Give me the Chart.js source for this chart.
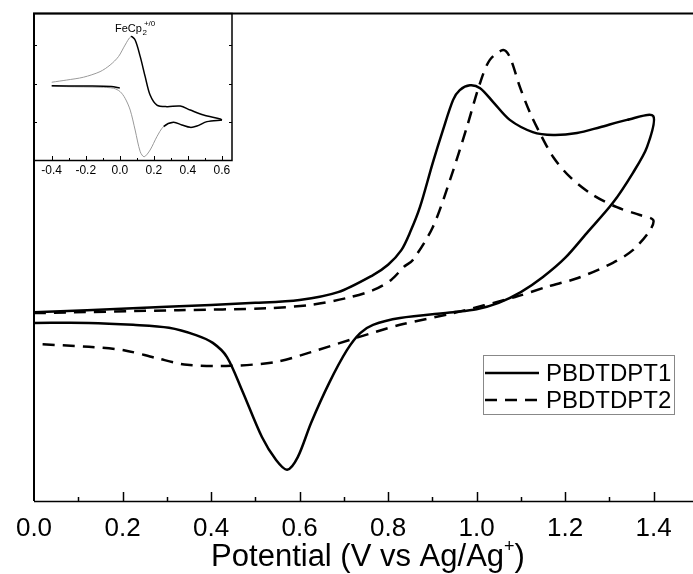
<!DOCTYPE html>
<html>
<head>
<meta charset="utf-8">
<script src="https://cdn.jsdelivr.net/npm/chart.js@4.4.1/dist/chart.umd.min.js"></script>
<style>
  html, body { margin: 0; padding: 0; background: #fff; overflow: hidden; }
  #wrap { position: relative; width: 693px; height: 574px; }
  #main { position: absolute; left: 0; top: 0; }
  #inset { position: absolute; left: 30px; top: 9px; }
</style>
</head>
<body>
<div id="wrap">
  <canvas id="main" width="693" height="574"></canvas>
  <canvas id="inset" width="215" height="180"></canvas>
</div>
<script>
const FONT = "'Liberation Sans', Arial, sans-serif";

// main plot: potential (V vs Ag/Ag+) and current (arbitrary units)
const xTickValues = [0, 0.1, 0.2, 0.3, 0.4, 0.5, 0.6, 0.7, 0.8, 0.9, 1.0, 1.1, 1.2, 1.3, 1.4];

const p1Potential = [0, 0.12, 0.30, 0.50, 0.60, 0.687, 0.766, 0.80, 0.83, 0.85, 0.872, 0.901, 0.924, 0.947, 0.962,
  0.985, 1.008, 1.037, 1.075, 1.127, 1.173, 1.227, 1.279, 1.340, 1.399,
  1.385, 1.353, 1.308, 1.249, 1.20, 1.15, 1.10, 1.05, 1.00, 0.947, 0.827, 0.766, 0.737, 0.707, 0.667, 0.626,
  0.596, 0.572, 0.547, 0.515, 0.470, 0.436, 0.404, 0.366, 0.305, 0.224, 0.124, 0];
const p1Current = [3.87, 3.91, 3.98, 4.06, 4.12, 4.28, 4.63, 4.84, 5.14, 5.51, 6.02, 6.93, 7.60, 8.22, 8.42,
  8.52, 8.46, 8.18, 7.81, 7.56, 7.50, 7.54, 7.66, 7.81, 7.89,
  7.25, 6.72, 6.11, 5.49, 4.98, 4.59, 4.28, 4.06, 3.93, 3.87, 3.75, 3.61, 3.44, 3.09, 2.42, 1.60,
  0.90, 0.64, 0.84, 1.31, 2.27, 2.95, 3.24, 3.40, 3.55, 3.61, 3.65, 3.65];

const p2Potential = [0, 0.326, 0.527, 0.626, 0.707, 0.766, 0.807, 0.836, 0.856, 0.901, 0.940, 0.978, 1.008, 1.030,
  1.060, 1.075, 1.098, 1.121, 1.143, 1.173, 1.211, 1.263, 1.317, 1.369, 1.399,
  1.392, 1.353, 1.308, 1.229, 1.159, 1.087, 0.947, 0.827, 0.727, 0.626, 0.547, 0.445, 0.346, 0.276, 0.203, 0.124, 0];
const p2Current = [3.85, 3.91, 3.95, 4.02, 4.16, 4.32, 4.53, 4.80, 4.94, 5.61, 6.58, 7.66, 8.57, 9.04,
  9.24, 9.10, 8.48, 7.95, 7.54, 7.05, 6.64, 6.27, 6.02, 5.86, 5.76,
  5.55, 5.14, 4.88, 4.57, 4.39, 4.18, 3.85, 3.61, 3.34, 3.05, 2.85, 2.77, 2.79, 2.93, 3.09, 3.16, 3.22];

// inset: ferrocene reference
const insetTickValues = [-0.4, -0.3, -0.2, -0.1, 0, 0.1, 0.2, 0.3, 0.4, 0.5, 0.6];
const insetYTicks = [0.26, 0.52, 0.78];

const fecpStartV = [0.0, -0.05, -0.2, -0.4];
const fecpStartI = [0.49, 0.50, 0.503, 0.505];

const fecpFwdV = [-0.4, -0.312, -0.214, -0.116, -0.057, -0.008, 0.031, 0.065, 0.090, 0.12, 0.149, 0.178, 0.218, 0.277, 0.355, 0.414, 0.492, 0.59, 0.6];
const fecpFwdI = [0.529, 0.544, 0.563, 0.601, 0.646, 0.703, 0.782, 0.839, 0.816, 0.703, 0.567, 0.442, 0.374, 0.363, 0.367, 0.340, 0.306, 0.279, 0.272];

const fecpRevV = [0.6, 0.512, 0.453, 0.414, 0.365, 0.315, 0.257, 0.218, 0.178, 0.143, 0.12, 0.09, 0.061, 0.031, 0.002, -0.037, -0.116, -0.312, -0.4];
const fecpRevI = [0.272, 0.261, 0.231, 0.222, 0.238, 0.256, 0.227, 0.159, 0.068, 0.022, 0.056, 0.204, 0.340, 0.420, 0.465, 0.488, 0.495, 0.499, 0.503];

function zip(xs, ys) {
    return xs.map((x, i) => ({ x: x, y: ys[i] }));
}

// frame, inward ticks, legend and axis title of the main plot
const mainDecor = {
    id: 'mainDecor',
    afterDraw(chart) {
        const { ctx, chartArea: a, scales: { x } } = chart;
        ctx.save();
        ctx.strokeStyle = '#000';
        ctx.lineWidth = 2;
        ctx.beginPath();
        ctx.moveTo(a.left, a.bottom);
        ctx.lineTo(a.left, a.top + 0.5);
        ctx.lineTo(a.right, a.top + 0.5);
        ctx.stroke();
        ctx.lineWidth = 1.5;
        ctx.beginPath();
        ctx.moveTo(a.left, a.bottom + 0.5);
        ctx.lineTo(a.right, a.bottom + 0.5);
        ctx.stroke();

        // ticks pointing into the plot
        ctx.lineWidth = 1.5;
        for (const v of xTickValues) {
            if (v === 0) continue;
            const px = Math.round(x.getPixelForValue(v)) + 0.5;
            const major = Math.round(v * 10) % 2 === 0;
            ctx.beginPath();
            ctx.moveTo(px, a.bottom);
            ctx.lineTo(px, a.bottom - (major ? 9 : 4));
            ctx.stroke();
        }

        // legend
        ctx.strokeStyle = '#888';
        ctx.lineWidth = 1;
        ctx.strokeRect(483.5, 355.5, 191, 59);
        ctx.font = '24px ' + FONT;
        ctx.textBaseline = 'middle';
        ctx.textAlign = 'left';
        ctx.fillStyle = '#000';
        chart.data.datasets.forEach((ds, i) => {
            const y = 373 + i * 27;
            ctx.strokeStyle = '#000';
            ctx.lineWidth = ds.borderWidth;
            ctx.setLineDash(ds.borderDash || []);
            ctx.beginPath();
            ctx.moveTo(485, y);
            ctx.lineTo(539, y);
            ctx.stroke();
            ctx.setLineDash([]);
            ctx.fillText(ds.label, 546, y + 1);
        });

        // axis title with superscript
        const main = 'Potential (V vs Ag/Ag';
        ctx.font = '31px ' + FONT;
        const w1 = ctx.measureText(main).width;
        ctx.font = '18px ' + FONT;
        const w2 = ctx.measureText('+').width;
        ctx.font = '31px ' + FONT;
        const w3 = ctx.measureText(')').width;
        const total = w1 + w2 + w3;
        let tx = 368 - total / 2;
        const base = 566;
        ctx.textBaseline = 'alphabetic';
        ctx.fillText(main, tx, base);
        ctx.font = '18px ' + FONT;
        ctx.fillText('+', tx + w1, base - 14);
        ctx.font = '31px ' + FONT;
        ctx.fillText(')', tx + w1 + w2, base);
        ctx.restore();
    }
};

new Chart(document.getElementById('main'), {
    type: 'scatter',
    data: {
        datasets: [
            { label: 'PBDTDPT1', data: zip(p1Potential, p1Current), showLine: true, borderColor: '#000',
              borderWidth: 2.5, pointRadius: 0, tension: 0.3, fill: false },
            { label: 'PBDTDPT2', data: zip(p2Potential, p2Current), showLine: true, borderColor: '#000',
              borderWidth: 2.5, borderDash: [12, 8], pointRadius: 0, tension: 0.3, fill: false }
        ]
    },
    options: {
        responsive: false,
        animation: false,
        layout: { padding: { left: 34, top: 13, right: 0, bottom: 0 } },
        plugins: { legend: { display: false }, tooltip: { enabled: false } },
        scales: {
            x: {
                type: 'linear', min: 0, max: 1.489,
                grid: { display: false, drawTicks: false },
                border: { display: false },
                afterBuildTicks: s => { s.ticks = xTickValues.map(v => ({ value: v })); },
                afterFit: s => { s.height = 73; },
                ticks: {
                    autoSkip: false, maxRotation: 0, padding: 12, color: '#000',
                    font: { family: FONT, size: 26 },
                    callback: v => (Math.round(v * 10) % 2 === 0 ? v.toFixed(1) : '')
                }
            },
            y: { type: 'linear', min: 0, max: 10, display: false }
        }
    },
    plugins: [mainDecor]
});

// inset frame, ticks and label
const insetDecor = {
    id: 'insetDecor',
    afterDraw(chart) {
        const { ctx, chartArea: a, scales: { x, y } } = chart;
        ctx.save();
        ctx.strokeStyle = '#000';
        ctx.lineWidth = 1.5;
        ctx.strokeRect(a.left, a.top + 0.5, a.right - a.left, a.bottom - a.top);
        ctx.lineWidth = 1;
        for (const v of insetTickValues) {
            const px = Math.round(x.getPixelForValue(v)) + 0.5;
            const major = Math.round(v * 10) % 2 === 0;
            ctx.beginPath();
            ctx.moveTo(px, a.bottom);
            ctx.lineTo(px, a.bottom - (major ? 4 : 2));
            ctx.stroke();
        }
        for (const v of insetYTicks) {
            const py = Math.round(y.getPixelForValue(v)) + 0.5;
            ctx.beginPath();
            ctx.moveTo(a.left, py); ctx.lineTo(a.left + 3, py);
            ctx.moveTo(a.right, py); ctx.lineTo(a.right - 3, py);
            ctx.stroke();
        }
        // FeCp2 +/0 label
        ctx.fillStyle = '#000';
        ctx.textBaseline = 'alphabetic';
        ctx.font = '11px ' + FONT;
        const lx = 85, ly = 23;
        ctx.fillText('FeCp', lx, ly);
        const w = ctx.measureText('FeCp').width;
        ctx.font = '8px ' + FONT;
        ctx.fillText('2', lx + w + 0.5, ly + 3);
        ctx.fillText('+/0', lx + w + 2, ly - 6);
        ctx.restore();
    }
};

const BLACK = '#000';
const GREY = '#9a9a9a';

new Chart(document.getElementById('inset'), {
    type: 'scatter',
    data: {
        datasets: [
            { data: zip(fecpStartV, fecpStartI), showLine: true, borderColor: BLACK, borderWidth: 1.5,
              pointRadius: 0, tension: 0.3 },
            { data: zip(fecpFwdV, fecpFwdI), showLine: true, borderColor: GREY, borderWidth: 1,
              pointRadius: 0, tension: 0.3,
              segment: {
                  borderColor: c => (c.p0.parsed.x >= 0.04 ? BLACK : GREY),
                  borderWidth: c => (c.p0.parsed.x >= 0.04 ? 1.5 : 1)
              } },
            { data: zip(fecpRevV, fecpRevI), showLine: true, borderColor: BLACK, borderWidth: 1.5,
              pointRadius: 0, tension: 0.3,
              segment: {
                  borderColor: c => (c.p1.parsed.x >= 0.25 ? BLACK : GREY),
                  borderWidth: c => (c.p1.parsed.x >= 0.25 ? 1.5 : 1)
              } }
        ]
    },
    options: {
        responsive: false,
        animation: false,
        layout: { padding: { left: 4, top: 4, right: 13, bottom: 0 } },
        plugins: { legend: { display: false }, tooltip: { enabled: false } },
        scales: {
            x: {
                type: 'linear', min: -0.504, max: 0.659,
                grid: { display: false, drawTicks: false },
                border: { display: false },
                afterBuildTicks: s => { s.ticks = [-0.4, -0.2, 0, 0.2, 0.4, 0.6].map(v => ({ value: v })); },
                afterFit: s => { s.height = 29; },
                ticks: {
                    autoSkip: false, maxRotation: 0, padding: 3, color: '#000',
                    font: { family: FONT, size: 12 },
                    callback: v => v.toFixed(1)
                }
            },
            y: { type: 'linear', min: 0, max: 1, display: false }
        }
    },
    plugins: [insetDecor]
});
</script>
</body>
</html>
